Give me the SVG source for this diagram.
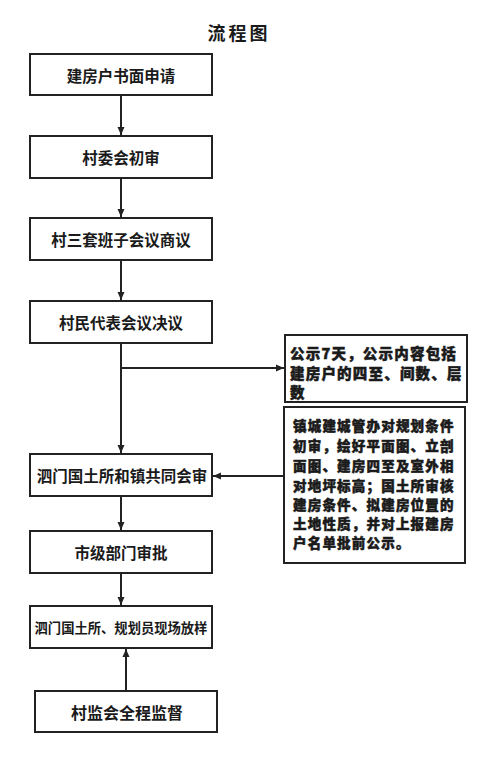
<svg xmlns="http://www.w3.org/2000/svg" width="500" height="772" viewBox="0 0 500 772">
<style>
.box{fill:#fff;stroke:#222;stroke-width:2}
.t{font-family:"Noto Sans CJK SC","Noto Sans CJK TC",sans-serif;font-weight:bold;fill:#1a1a1a;text-anchor:middle;dominant-baseline:central}
.n{font-family:"Noto Sans CJK SC","Noto Sans CJK TC",sans-serif;font-weight:900;fill:#1a1a1a;stroke:#1a1a1a;stroke-width:0.5;dominant-baseline:central}
.c{stroke:#222;stroke-width:2;fill:none}
</style>
<defs>
<marker id="ah" markerUnits="userSpaceOnUse" markerWidth="10" markerHeight="10" viewBox="0 0 10 10" refX="9" refY="5" orient="auto">
<path d="M1,1.5 L9,5 L1,8.5 Z" fill="#222"/>
</marker>
</defs>
<text class="t" x="239" y="32" font-size="18" letter-spacing="3">流程图</text>
<g id="n1"><rect class="box" x="30" y="54" width="182" height="41"/><text class="t" x="121" y="75" font-size="15.5">建房户书面申请</text></g>
<g id="n2"><rect class="box" x="30" y="136" width="182" height="42"/><text class="t" x="121" y="157" font-size="15.5">村委会初审</text></g>
<g id="n3"><rect class="box" x="30" y="218" width="182" height="42"/><text class="t" x="121" y="239" font-size="15.5">村三套班子会议商议</text></g>
<g id="n4"><rect class="box" x="30" y="301" width="182" height="42"/><text class="t" x="121" y="322" font-size="15.5">村民代表会议决议</text></g>
<g id="n5"><rect class="box" x="285" y="335" width="182" height="67"/>
<text class="n" x="290" y="352" font-size="14.5" letter-spacing="1.2">公示7天，公示内容包括</text>
<text class="n" x="290" y="372" font-size="14.5" letter-spacing="1.2">建房户的四至、间数、层</text>
<text class="n" x="290" y="391" font-size="14.5" letter-spacing="1.2">数</text></g>
<g id="n6"><rect class="box" x="284" y="407" width="181" height="156"/>
<text class="n" x="293" y="425" font-size="13.5" letter-spacing="1.2">镇城建城管办对规划条件</text>
<text class="n" x="293" y="445" font-size="13.5" letter-spacing="1.2">初审，绘好平面图、立剖</text>
<text class="n" x="293" y="465" font-size="13.5" letter-spacing="1.2">面图、建房四至及室外相</text>
<text class="n" x="293" y="485" font-size="13.5" letter-spacing="1.2">对地坪标高；国土所审核</text>
<text class="n" x="293" y="504" font-size="13.5" letter-spacing="1.2">建房条件、拟建房位置的</text>
<text class="n" x="293" y="523" font-size="13.5" letter-spacing="1.2">土地性质，并对上报建房</text>
<text class="n" x="293" y="542" font-size="13.5" letter-spacing="1.2">户名单批前公示。</text></g>
<g id="n7"><rect class="box" x="30" y="454" width="182" height="42"/><text class="t" x="122" y="475" font-size="15.5">泗门国土所和镇共同会审</text></g>
<g id="n8"><rect class="box" x="30" y="531" width="182" height="42"/><text class="t" x="121" y="552" font-size="15.5">市级部门审批</text></g>
<g id="n9"><rect class="box" x="30" y="606" width="182" height="42"/><text class="t" x="121" y="627" font-size="13.3">泗门国土所、规划员现场放样</text></g>
<g id="n10"><rect class="box" x="35" y="691" width="182" height="41"/><text class="t" x="127" y="712" font-size="16">村监会全程监督</text></g>
<g id="connectors">
<line class="c" x1="121" y1="95" x2="121" y2="135" marker-end="url(#ah)"/>
<line class="c" x1="121" y1="178" x2="121" y2="217" marker-end="url(#ah)"/>
<line class="c" x1="121" y1="260" x2="121" y2="300" marker-end="url(#ah)"/>
<line class="c" x1="121" y1="343" x2="121" y2="453" marker-end="url(#ah)"/>
<line class="c" x1="121" y1="368" x2="284" y2="368" marker-end="url(#ah)"/>
<line class="c" x1="284" y1="476" x2="213" y2="476" marker-end="url(#ah)"/>
<line class="c" x1="121" y1="496" x2="121" y2="530" marker-end="url(#ah)"/>
<line class="c" x1="121" y1="573" x2="121" y2="605" marker-end="url(#ah)"/>
<line class="c" x1="126" y1="691" x2="126" y2="649" marker-end="url(#ah)"/>
</g>
</svg>
